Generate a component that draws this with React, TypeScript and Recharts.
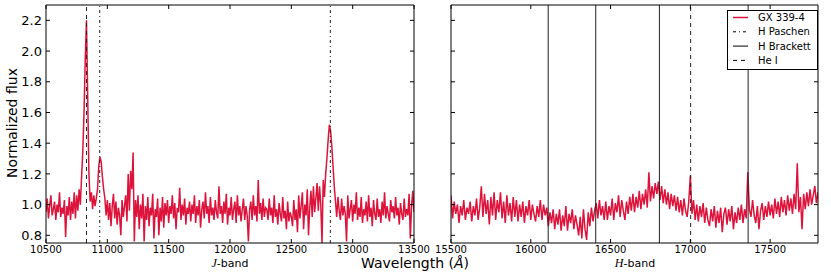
import React from "react";
import { LineChart, Line, XAxis, YAxis, ReferenceLine } from "recharts";

// J-band spectrum, one value every 10 Å from 10500 Å
const jStart = 10500;
const jStep = 10;
const jFlux = [
  0.95, 1.04, 0.91, 0.99, 1.06, 0.93, 0.97, 1.02, 0.9, 1.0, 0.95, 1.08, 0.92, 0.98, 0.94, 1.03, 0.79, 0.99, 0.93, 1.05,
  0.9, 1.02, 0.94, 1.08, 0.91, 1.06, 0.96, 1.1, 1.0, 1.18, 1.35, 1.6, 1.95, 2.2, 1.7, 1.2, 1.02, 1.08, 0.97, 1.06,
  0.99, 1.04, 1.1, 1.25, 1.31, 1.28, 1.18, 1.1, 1.04, 0.93, 1.03, 0.9, 1.01, 0.86, 0.99, 1.07, 0.91, 1.02, 0.87, 0.98,
  0.93, 0.8, 1.03, 0.92, 0.99, 1.06, 0.89, 1.2, 0.96, 1.22, 1.1, 1.34, 0.76, 1.03, 0.92, 1.06, 0.84, 1.0, 0.91, 1.07,
  0.76, 0.99, 0.9, 1.05, 0.86, 0.98, 0.93, 1.07, 0.78, 0.97, 0.92, 1.04, 0.8, 0.98, 0.89, 1.05, 0.85, 1.01, 0.93, 1.03,
  0.88, 0.99, 0.94, 1.06, 0.91, 1.01, 0.84, 0.98, 0.95, 1.11, 0.9, 1.0, 0.93, 1.04, 0.87, 0.98, 0.94, 1.02, 0.89, 1.0,
  0.94, 1.06, 0.88, 0.99, 0.93, 1.03, 0.85, 0.97, 1.02, 0.91, 1.08, 0.94, 0.99, 0.88, 1.05, 0.93, 0.98, 0.9, 1.03, 0.95,
  0.91, 1.12, 0.94, 0.99, 0.88, 1.02, 0.94, 1.07, 0.87, 0.98, 0.93, 1.05, 0.9, 0.97, 1.02, 0.88, 1.06, 0.93, 0.99, 0.89,
  0.97, 1.04, 0.9, 0.99, 0.93, 0.76, 0.97, 1.02, 0.9, 1.06, 0.93, 0.99, 0.89, 1.16, 0.94, 1.01, 0.9, 1.04, 0.92, 0.98,
  0.97, 0.9, 1.04, 0.93, 0.98, 0.88, 1.06, 0.92, 0.97, 0.87, 1.01, 0.94, 0.89, 1.05, 0.91, 0.96, 0.84, 1.02, 0.89, 0.95,
  0.92, 0.86, 1.03, 0.9, 0.97, 0.82, 1.06, 0.91, 0.99, 1.08, 0.84, 1.0, 0.93, 1.1, 0.8, 0.98, 1.09, 0.92, 1.12, 0.95,
  1.04, 1.14, 0.96, 1.12, 1.0, 0.75, 1.16, 1.05, 1.2, 1.3, 1.42, 1.52, 1.48, 1.38, 1.25, 1.12, 1.02, 0.92, 1.05, 0.96,
  0.9, 1.04, 0.93, 0.99, 0.94, 0.76, 1.06, 0.91, 0.97, 1.03, 0.89, 1.0, 0.94, 1.08, 0.9, 0.98, 0.92, 1.05, 0.88, 0.97,
  0.93, 1.02, 0.89, 1.06, 0.92, 0.98, 0.86, 1.03, 0.94, 0.9, 1.04, 0.92, 0.97, 0.88, 1.02, 0.93, 1.08, 0.91, 0.99, 0.94,
  0.89, 1.03, 0.95, 0.99, 0.91, 1.05, 0.93, 0.98, 0.87, 1.01, 0.94, 0.9, 1.04, 0.92, 0.97, 0.93, 1.07, 0.78, 0.99, 1.09,
  0.95,
];

// H-band spectrum, one value every 10 Å from 15500 Å
const hStart = 15500;
const hStep = 10;
const hFlux = [
  1.06, 0.91, 1.02, 0.94, 1.0, 0.88, 0.99, 0.93, 1.03, 0.9, 0.98, 0.94, 1.02, 0.89, 0.99, 0.93, 1.04, 0.9, 0.98, 1.12,
  0.92, 1.07, 0.94, 1.03, 0.87, 1.05, 0.93, 1.08, 0.9, 1.03, 0.95, 1.08, 0.91, 1.02, 0.88, 1.06, 0.93, 1.01, 0.89, 1.05,
  0.92, 1.03, 0.89, 1.0, 0.92, 1.02, 0.88, 0.99, 0.93, 1.03, 0.9, 1.0, 0.94, 0.89, 0.99, 0.92, 1.03, 0.9, 1.0, 0.93,
  0.98, 0.86, 0.95, 0.88, 0.97, 0.84, 0.94, 0.87, 0.97, 0.83, 0.93, 0.86, 0.99, 0.83, 0.94, 0.88, 0.97, 0.84, 0.93, 0.87,
  0.8, 0.92, 0.78, 0.97, 0.84, 0.77, 0.95, 0.86, 0.98, 0.89, 0.96, 1.01, 0.91, 1.03, 0.93, 0.99, 0.9, 1.02, 0.9, 0.99,
  0.93, 1.04, 0.9, 1.01, 0.95, 1.06, 0.92, 1.03, 0.96, 0.9, 1.02, 0.94, 1.05, 0.96, 1.07, 0.95, 1.05, 0.98, 1.09, 0.97,
  1.07, 1.0, 1.1, 0.98, 1.21, 1.02, 1.12, 1.04, 1.14, 1.07, 1.15, 1.03, 1.12, 1.01, 1.1, 1.0, 1.08, 0.97, 1.07, 0.99,
  1.06, 0.96, 1.05, 0.95, 1.03, 0.93, 1.04, 0.96, 0.92, 1.02, 1.19, 0.94, 1.03, 0.9, 1.0, 0.89, 0.99, 0.92, 1.01, 0.88,
  0.98, 0.9, 0.86, 0.97, 0.89, 0.99, 0.85, 0.96, 0.88, 0.98, 0.82, 0.94, 0.98, 0.87, 0.97, 0.89, 0.99, 0.84, 0.95, 0.88,
  0.98, 0.9, 1.0, 0.88, 0.97, 0.91, 1.21, 0.97, 0.92, 1.03, 0.93, 0.88, 0.99, 0.84, 0.96, 1.01, 0.9, 0.99, 0.92, 1.02,
  0.93, 1.0, 0.91, 1.04, 0.94, 1.02, 0.92, 1.05, 0.95, 1.03, 0.93, 1.06, 0.96, 1.04, 0.94, 1.07, 0.97, 1.27, 0.95, 1.05,
  0.84, 1.07, 0.97, 1.08, 0.99, 1.1, 1.0, 1.06, 1.12, 1.01, 1.08,
];

const jTicks = [10500, 11000, 11500, 12000, 12500, 13000, 13500];
const hTicks = [15500, 16000, 16500, 17000, 17500];
const fluxTicks = [0.8, 1.0, 1.2, 1.4, 1.6, 1.8, 2.0, 2.2];

// line identifications (Å)
const paschenJ = [10938, 12818];
const heliumJ = [10830];
const brackettH = [16109, 16407, 16806, 17362];
const heliumH = [17002];

const CRIMSON = "#dc143c";
const SANS = "DejaVu Sans, sans-serif";
const MATH = "Liberation Serif, DejaVu Serif, serif";

const PASCHEN_DASH = "3 3 1 3";
const HE_DASH = "4 4";

const legendItems = [
  { name: "GX 339-4", color: CRIMSON, dash: undefined, width: 1.5 },
  { name: "H Paschen", color: "#000", dash: PASCHEN_DASH, width: 1 },
  { name: "H Brackett", color: "#000", dash: undefined, width: 1 },
  { name: "He I", color: "#000", dash: HE_DASH, width: 1 },
];

const jData = jFlux.map((f, i) => ({ w: jStart + i * jStep, f }));
const hData = hFlux.map((f, i) => ({ w: hStart + i * hStep, f }));

const axisStroke = { stroke: "#000", strokeWidth: 1 };

// axes are 1px wide so they still render; margins are set 1px short to compensate
function Panel({ data, domain, ticks, left, right, labels, children }: any) {
  return (
    <div style={{ position: "absolute", left: 0, top: 0 }}>
      <LineChart width={831} height={272} data={data} margin={{ top: 4, bottom: 28, left: left - 1, right: right - 1 }}>
        <XAxis
          xAxisId="b"
          dataKey="w"
          type="number"
          domain={domain}
          ticks={ticks}
          interval={0}
          allowDataOverflow
          height={1}
          tickSize={-4}
          tickMargin={7}
          axisLine={axisStroke}
          tickLine={axisStroke}
          tick={{ fontSize: 10, fill: "#000", fontFamily: SANS }}
        />
        <XAxis
          xAxisId="t"
          orientation="top"
          dataKey="w"
          type="number"
          domain={domain}
          ticks={ticks}
          interval={0}
          allowDataOverflow
          height={1}
          tickSize={-4}
          axisLine={axisStroke}
          tickLine={axisStroke}
          tickFormatter={() => ""}
        />
        <YAxis
          yAxisId="l"
          type="number"
          domain={[0.75, 2.3]}
          ticks={fluxTicks}
          interval={0}
          allowDataOverflow
          width={1}
          tickSize={-4}
          tickMargin={8}
          axisLine={axisStroke}
          tickLine={axisStroke}
          tick={{ fontSize: 13, fill: "#000", fontFamily: SANS }}
          tickFormatter={(v: number) => (labels ? v.toFixed(1) : "")}
        />
        <YAxis
          yAxisId="r"
          orientation="right"
          type="number"
          domain={[0.75, 2.3]}
          ticks={fluxTicks}
          interval={0}
          allowDataOverflow
          width={1}
          tickSize={-4}
          axisLine={axisStroke}
          tickLine={axisStroke}
          tickFormatter={() => ""}
        />
        <Line
          xAxisId="b"
          yAxisId="l"
          type="linear"
          dataKey="f"
          stroke={CRIMSON}
          strokeWidth={1.5}
          dot={false}
          isAnimationActive={false}
        />
        {children}
      </LineChart>
    </div>
  );
}

function vline(x: number, dash: string | undefined, key: string) {
  return (
    <ReferenceLine
      key={key}
      xAxisId="b"
      yAxisId="l"
      x={x}
      stroke="#222"
      strokeWidth={1}
      strokeDasharray={dash}
    />
  );
}

export default function App() {
  return (
    <div style={{ position: "fixed", left: 0, top: 0, width: 831, height: 272, background: "#fff" }}>
      <Panel data={jData} domain={[10500, 13500]} ticks={jTicks} left={46} right={417} labels>
        {heliumJ.map((x, i) => vline(x, HE_DASH, "he" + i))}
        {paschenJ.map((x, i) => vline(x, PASCHEN_DASH, "pa" + i))}
      </Panel>
      <Panel data={hData} domain={[15500, 17800]} ticks={hTicks} left={451} right={13} labels={false}>
        {brackettH.map((x, i) => vline(x, undefined, "br" + i))}
        {heliumH.map((x, i) => vline(x, HE_DASH, "heh" + i))}
      </Panel>

      <svg width={831} height={272} style={{ position: "absolute", left: 0, top: 0, pointerEvents: "none" }}>
        <text
          x={17}
          y={123}
          transform="rotate(-90 17 123)"
          textAnchor="middle"
          fontSize={14}
          fontFamily={SANS}
          fill="#000"
        >
          Normalized flux
        </text>
        <text x={415} y={268} textAnchor="middle" fontSize={14} fontFamily={SANS} fill="#000">
          Wavelength (<tspan fontStyle="italic">Å</tspan>)
        </text>
        <text x={230} y={267} textAnchor="middle" fontSize={11} fontFamily={SANS} fill="#000">
          <tspan fontFamily={MATH} fontStyle="italic" fontSize={12}>J</tspan>-band
        </text>
        <text x={635} y={267} textAnchor="middle" fontSize={11} fontFamily={SANS} fill="#000">
          <tspan fontFamily={MATH} fontStyle="italic" fontSize={12}>H</tspan>-band
        </text>

        <rect x={727.5} y={10.5} width={90} height={59} fill="#fff" stroke="#000" strokeWidth={1} />
        {legendItems.map((item, i) => {
          const y = 17.5 + i * 14.3;
          return (
            <g key={item.name}>
              <line
                x1={733}
                x2={748}
                y1={y}
                y2={y}
                stroke={item.color}
                strokeWidth={item.width}
                strokeDasharray={item.dash}
              />
              <text x={758} y={y + 3.5} fontSize={10} fontFamily={SANS} fill="#000">
                {item.name}
              </text>
            </g>
          );
        })}
      </svg>
    </div>
  );
}
